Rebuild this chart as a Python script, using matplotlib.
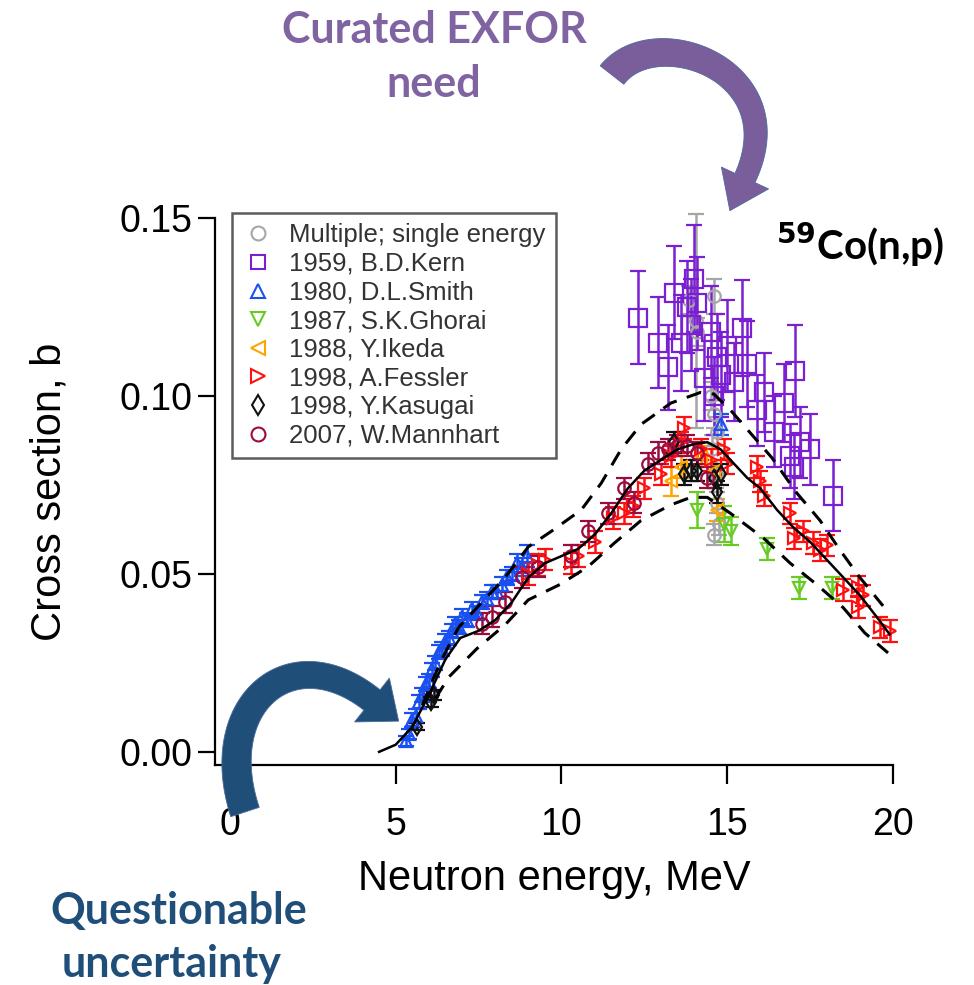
import numpy as np
import matplotlib
matplotlib.use("Agg")
import matplotlib.pyplot as plt
from matplotlib.lines import Line2D
from matplotlib.patches import Polygon

plt.rcParams['font.family'] = ['Liberation Sans', 'DejaVu Sans']

# evaluation curve and its uncertainty band
eval_x = [4.5, 5.0, 5.5, 6.0, 6.5, 6.95, 7.5, 8.0, 8.5, 9.0, 9.5, 10.0, 10.5, 11.0, 11.5,
          12.0, 12.5, 13.0, 13.5, 14.0, 14.4, 14.8, 15.2, 15.6, 16.0, 16.5, 17.0, 17.5,
          18.0, 18.5, 19.0, 19.5, 19.9]
eval_y = [0.0, 0.002, 0.007, 0.016, 0.026, 0.032, 0.034, 0.037, 0.042, 0.049, 0.053, 0.055,
          0.057, 0.061, 0.067, 0.074, 0.079, 0.082, 0.085, 0.0865, 0.087, 0.085, 0.081,
          0.077, 0.074, 0.068, 0.063, 0.059, 0.054, 0.049, 0.044, 0.038, 0.033]
upper_x = [5.8, 6.2, 6.5, 6.9, 7.5, 8.3, 9.0, 9.7, 10.6, 11.2, 11.8, 12.4, 13.3, 14.2, 14.6,
           15.1, 15.8, 16.35, 17.1, 17.8, 18.4, 19.0, 19.7]
upper_y = [0.013, 0.022, 0.028, 0.035, 0.041, 0.049, 0.0576, 0.062, 0.068, 0.0755, 0.085,
           0.092, 0.098, 0.101, 0.1005, 0.096, 0.0885, 0.0826, 0.0727, 0.065, 0.0567,
           0.049, 0.041]
lower_x = [6.2, 6.6, 7.45, 8.3, 9.0, 9.95, 10.8, 11.6, 12.4, 13.3, 13.9, 14.4, 15.1, 16.1,
           16.9, 17.7, 18.5, 19.15, 19.85]
lower_y = [0.015, 0.021, 0.029, 0.0357, 0.0427, 0.047, 0.052, 0.0587, 0.065, 0.0694, 0.0715,
           0.0715, 0.067, 0.060, 0.053, 0.047, 0.0405, 0.0334, 0.0278]

# experimental data sets: energy (MeV), cross section (b), uncertainty (b)
multi_x = [13.85, 14.07, 14.10, 14.60, 14.50, 14.60, 14.70, 14.55, 14.70, 14.75, 14.60, 14.65]
multi_y = [0.127, 0.121, 0.118, 0.128, 0.100, 0.095, 0.090, 0.085, 0.070, 0.064, 0.061, 0.078]
multi_e = [0.004, 0.030, 0.004, 0.005, 0.004, 0.004, 0.004, 0.004, 0.003, 0.003, 0.003, 0.004]

kern_x = [12.3, 12.9, 13.2, 13.4, 13.6, 13.8, 13.9, 14.0, 14.1, 14.3, 14.5, 14.6, 14.7, 14.8,
          15.0, 15.2, 15.45, 15.6, 15.9, 16.1, 16.4, 16.7, 16.9, 17.0, 17.05, 17.2, 17.5, 18.2]
kern_y = [0.122, 0.115, 0.108, 0.129, 0.115, 0.125, 0.120, 0.133, 0.126, 0.105, 0.118, 0.100,
          0.111, 0.106, 0.114, 0.104, 0.119, 0.109, 0.096, 0.101, 0.090, 0.098, 0.083, 0.080,
          0.107, 0.087, 0.085, 0.072]
kern_e = [0.013, 0.0127, 0.012, 0.013, 0.0135, 0.013, 0.013, 0.015, 0.013, 0.012, 0.013, 0.011,
          0.012, 0.012, 0.013, 0.011, 0.0135, 0.012, 0.010, 0.011, 0.010, 0.011, 0.009, 0.009,
          0.013, 0.010, 0.010, 0.010]

smith_x = [5.30, 5.40, 5.50, 5.60, 5.70, 5.80, 5.90, 6.00, 6.10, 6.20, 6.30, 6.40, 6.50, 6.60,
           6.70, 6.80, 6.90, 7.00, 7.15, 7.30, 7.45, 7.60, 7.75, 7.90, 8.05, 8.20, 8.35, 8.50,
           8.65, 8.80, 8.95, 14.80]
smith_y = [0.003, 0.005, 0.009, 0.010, 0.014, 0.016, 0.019, 0.020, 0.023, 0.025, 0.028, 0.029,
           0.031, 0.032, 0.034, 0.036, 0.035, 0.038, 0.037, 0.040, 0.039, 0.042, 0.043, 0.045,
           0.045, 0.047, 0.049, 0.050, 0.053, 0.052, 0.055, 0.092]
smith_e = [0.0015, 0.0015, 0.002, 0.002, 0.002, 0.002, 0.002, 0.002, 0.002, 0.002, 0.002, 0.002,
           0.002, 0.002, 0.002, 0.002, 0.002, 0.002, 0.002, 0.002, 0.002, 0.002, 0.002, 0.002,
           0.002, 0.002, 0.002, 0.002, 0.0025, 0.0025, 0.003, 0.003]

ghorai_x = [14.1, 14.9, 15.1, 16.2, 17.15, 18.15]
ghorai_y = [0.068, 0.064, 0.062, 0.057, 0.046, 0.046]
ghorai_e = [0.005, 0.005, 0.004, 0.003, 0.003, 0.003]

ikeda_x = [13.3, 13.6, 14.2, 14.6, 14.7]
ikeda_y = [0.076, 0.080, 0.083, 0.079, 0.068]
ikeda_e = [0.004, 0.003, 0.003, 0.003, 0.003]

fessler_x = [9.0, 9.3, 9.5, 10.3, 10.5, 11.0, 11.55, 11.9, 12.16, 12.5, 13.0, 13.3, 13.6, 13.7,
             14.2, 14.5, 14.9, 15.0, 15.9, 16.0, 16.1, 16.9, 17.0, 17.3, 17.6, 17.8, 18.0,
             18.5, 18.95, 18.95, 19.1, 19.6, 19.9]
fessler_y = [0.050, 0.0525, 0.054, 0.053, 0.055, 0.059, 0.0657, 0.067, 0.069, 0.074, 0.078,
             0.083, 0.087, 0.091, 0.085, 0.082, 0.085, 0.081, 0.080, 0.076, 0.072, 0.067,
             0.060, 0.062, 0.0587, 0.0567, 0.058, 0.0455, 0.0464, 0.0407, 0.044, 0.035, 0.034]
fessler_e = [0.003] * len(fessler_x)

kasugai_x = [5.65, 6.05, 6.15, 13.4, 13.7, 13.9, 14.1, 14.6, 14.7, 14.8]
kasugai_y = [0.007, 0.014, 0.016, 0.087, 0.078, 0.079, 0.079, 0.077, 0.073, 0.078]
kasugai_e = [0.001, 0.0015, 0.0015, 0.003, 0.003, 0.003, 0.003, 0.003, 0.003, 0.003]

mannhart_x = [7.6, 7.9, 8.3, 8.8, 9.3, 10.3, 10.8, 11.4, 11.9, 12.2, 12.6, 12.9, 13.2, 13.5,
              13.8, 14.1, 14.4]
mannhart_y = [0.036, 0.038, 0.042, 0.049, 0.052, 0.055, 0.062, 0.067, 0.074, 0.070, 0.081,
              0.084, 0.085, 0.086, 0.086, 0.084, 0.077]
mannhart_e = [0.003] * len(mannhart_x)

datasets = [
    ("Multiple; single energy", multi_x, multi_y, multi_e, "o", "#a6a6a6", 9),
    ("1959, B.D.Kern", kern_x, kern_y, kern_e, "s", "#7a1fd2", 13),
    ("1980, D.L.Smith", smith_x, smith_y, smith_e, "^", "#1a50f0", 8),
    ("1987, S.K.Ghorai", ghorai_x, ghorai_y, ghorai_e, "v", "#66cc22", 9),
    ("1988, Y.Ikeda", ikeda_x, ikeda_y, ikeda_e, "<", "#ffa500", 9),
    ("1998, A.Fessler", fessler_x, fessler_y, fessler_e, ">", "#ff1010", 9),
    ("1998, Y.Kasugai", kasugai_x, kasugai_y, kasugai_e, "d", "#111111", 8),
    ("2007, W.Mannhart", mannhart_x, mannhart_y, mannhart_e, "o", "#9c0b3f", 9),
]

W, H = 974, 985
fig = plt.figure(figsize=(W / 100, H / 100), dpi=100)
ax = fig.add_axes([215 / W, 1 - 765 / H, (893 - 215) / W, (765 - 218) / H])

handles = []
for label, x, y, e, m, c, ms in datasets:
    ax.errorbar(x, y, yerr=e, fmt=m, mfc='none', mec=c, ecolor=c, ms=ms, mew=1.6,
                elinewidth=1.8, capsize=6, capthick=1.8, linestyle='none', zorder=2,
                clip_on=False)
    handles.append(Line2D([], [], marker=m, mfc='none', mec=c, ms=10, mew=1.5,
                          linestyle='none', label=label))

ax.plot(eval_x, eval_y, color='black', lw=1.8, zorder=4)
ax.plot(upper_x, upper_y, color='black', lw=2.2, ls=(0, (5, 3.5)), zorder=4)
ax.plot(lower_x, lower_y, color='black', lw=2.2, ls=(0, (5, 3.5)), zorder=4)

ax.set_xlim(-0.45, 20)
ax.set_ylim(-0.0037, 0.15)
ax.spines['top'].set_visible(False)
ax.spines['right'].set_visible(False)
for s in ['left', 'bottom']:
    ax.spines[s].set_linewidth(1.6)
ax.set_xticks([0, 5, 10, 15, 20])
ax.set_yticks([0.0, 0.05, 0.10, 0.15])
ax.set_yticklabels(["0.00", "0.05", "0.10", "0.15"])
ax.tick_params(axis='y', length=12, width=1.6, labelsize=27, pad=4)
ax.tick_params(axis='x', length=14, width=1.6, labelsize=27, pad=16)
ax.set_xlabel("Neutron energy, MeV", fontsize=30, labelpad=12)
ax.set_ylabel("Cross section, b", fontsize=30, labelpad=36)

leg = ax.legend(handles=handles, loc='upper left', bbox_to_anchor=(0.025, 1.01),
                borderaxespad=0, fontsize=18.5, labelspacing=0.18, handletextpad=0.6,
                handlelength=1.2, fancybox=False, frameon=True, borderpad=0.42)
leg.get_frame().set_edgecolor('#333333')
leg.get_frame().set_linewidth(1.8)
for t in leg.get_texts():
    t.set_color('#333333')


def px(x, y):
    return (x / W, 1 - y / H)


def curved_arrow(p0, p1, p2, p3, w0, w1, head_w, head_len, color):
    t = np.linspace(0, 1, 80)[:, None]
    P = [np.array(p) for p in (p0, p1, p2, p3)]
    B = (1 - t) ** 3 * P[0] + 3 * (1 - t) ** 2 * t * P[1] + 3 * (1 - t) * t ** 2 * P[2] + t ** 3 * P[3]
    D = 3 * (1 - t) ** 2 * (P[1] - P[0]) + 6 * (1 - t) * t * (P[2] - P[1]) + 3 * t ** 2 * (P[3] - P[2])
    D = D / np.linalg.norm(D, axis=1)[:, None]
    N = np.column_stack([-D[:, 1], D[:, 0]])
    w = (w0 + (w1 - w0) * t) / 2
    left = B + N * w
    right = B - N * w
    tip = B[-1] + D[-1] * head_len
    hl = B[-1] + N[-1] * head_w / 2
    hr = B[-1] - N[-1] * head_w / 2
    pts = np.vstack([left, hl, tip, hr, right[::-1]])
    pts = [px(x, y) for x, y in pts]
    fig.patches.append(Polygon(pts, closed=True, transform=fig.transFigure,
                               facecolor=color, edgecolor='#4a6a9a', lw=0.6, zorder=6))


curved_arrow((612, 75), (655, 20), (795, 70), (745, 178), 30, 22, 52, 36, '#7a5e9c')
curved_arrow((245, 812), (210, 705), (290, 635), (372, 700), 30, 26, 56, 34, '#1f4e79')

fig.text(434 / W, 1 - 30 / H, "Curated EXFOR", ha='center', va='center', fontsize=31,
         fontweight='bold', color='#8064a2', family=['Lato', 'DejaVu Sans'])
fig.text(434 / W, 1 - 84 / H, "need", ha='center', va='center', fontsize=31,
         fontweight='bold', color='#8064a2', family=['Lato', 'DejaVu Sans'])
fig.text(179 / W, 1 - 911 / H, "Questionable", ha='center', va='center', fontsize=31,
         fontweight='bold', color='#1f4e79', family=['Lato', 'DejaVu Sans'])
fig.text(172 / W, 1 - 964 / H, "uncertainty", ha='center', va='center', fontsize=31,
         fontweight='bold', color='#1f4e79', family=['Lato', 'DejaVu Sans'])
fig.text(860 / W, 1 - 245 / H, r"$\mathbf{^{59}}$Co(n,p)", ha='center', va='center',
         fontsize=29, fontweight='bold', color='black', family=['Lato', 'DejaVu Sans'])

fig.savefig("out.png", dpi=100)
